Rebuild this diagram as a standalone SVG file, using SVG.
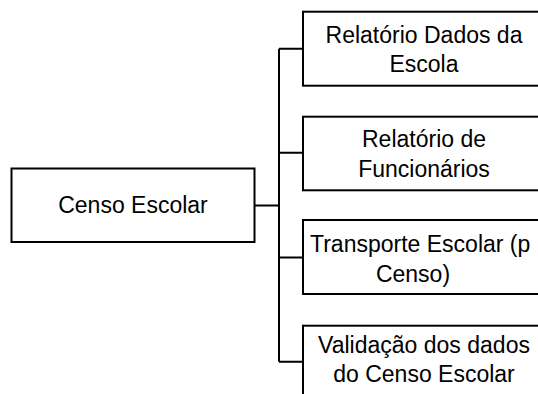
<svg xmlns="http://www.w3.org/2000/svg" width="538" height="394" viewBox="0 0 538 394">
<style>
.box{fill:#fff;stroke:#000;stroke-width:2}
.lbl{font-family:"Liberation Sans",Arial,sans-serif;font-size:23px;fill:#000;text-anchor:middle}
.conn{fill:none;stroke:#000;stroke-width:2}
</style>
<rect width="538" height="394" fill="#fff"/>
<g id="connectors">
<path class="conn" d="M255 205.5H279M279 48.7V361.7M279 48.7H303M279 152.7H303M279 257.5H303M279 361.7H303"/>
</g>
<g id="censo-escolar">
<rect class="box" x="11.5" y="168.5" width="243" height="73.5"/>
<text class="lbl" x="133" y="213.3">Censo Escolar</text>
</g>
<g id="relatorio-dados-escola">
<rect class="box" x="303" y="11.7" width="260" height="74"/>
<text class="lbl" x="424" y="42.5">Relatório Dados da</text>
<text class="lbl" x="424" y="72">Escola</text>
</g>
<g id="relatorio-funcionarios">
<rect class="box" x="303" y="116.7" width="260" height="73.6"/>
<text class="lbl" x="424" y="147.3">Relatório de</text>
<text class="lbl" x="424" y="176.7">Funcionários</text>
</g>
<g id="transporte-escolar">
<rect class="box" x="303" y="220" width="260" height="74"/>
<text class="lbl" x="310" y="252.3" style="text-anchor:start">Transporte Escolar (p</text>
<text class="lbl" x="413" y="281.7">Censo)</text>
</g>
<g id="validacao-dados">
<rect class="box" x="303" y="325.7" width="260" height="100"/>
<text class="lbl" x="424" y="352.7">Validação dos dados</text>
<text class="lbl" x="424" y="381.7">do Censo Escolar</text>
</g>
</svg>
